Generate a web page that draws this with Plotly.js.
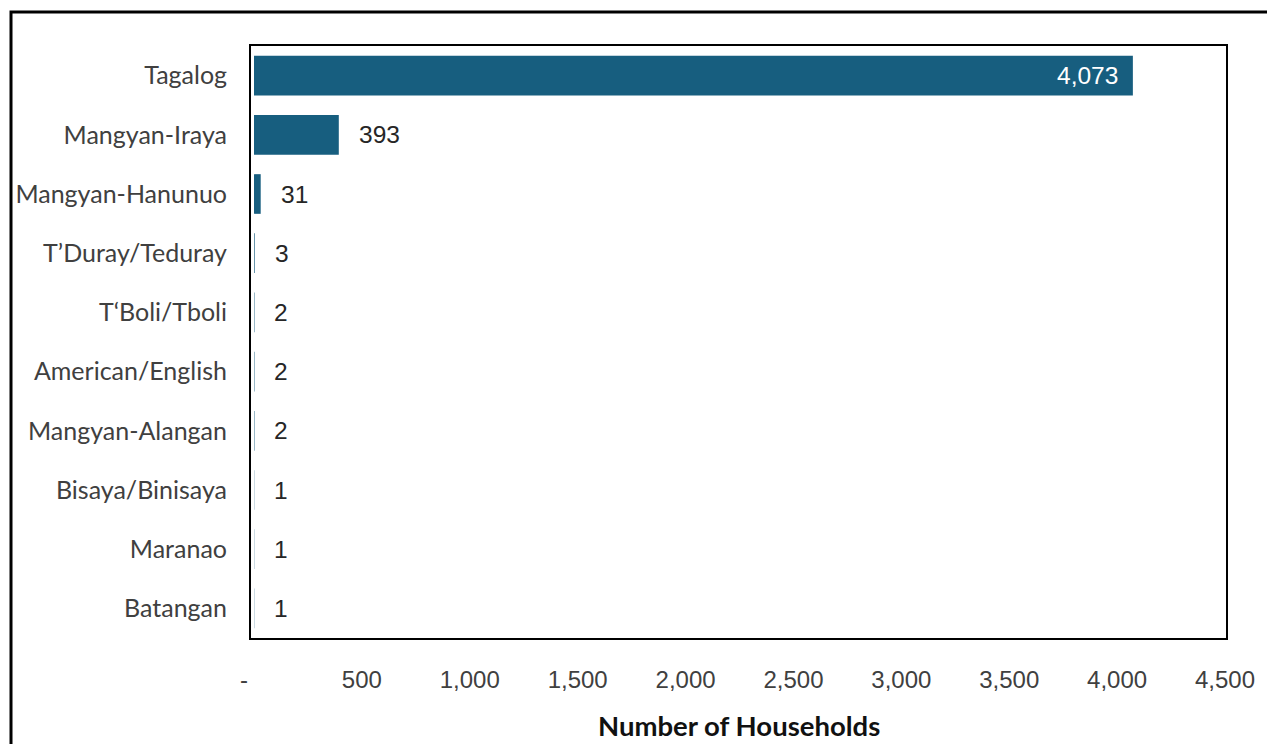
<!DOCTYPE html>
<html>
<head>
<meta charset="utf-8">
<script src="https://cdn.plot.ly/plotly-3.0.1.min.js"></script>
<style>html,body{margin:0;padding:0;background:#fff;}#chart{width:1267px;height:744px;}</style>
</head>
<body>
<div id="chart"></div>
<script>
const categories = ["Tagalog","Mangyan-Iraya","Mangyan-Hanunuo","T\u2019Duray/Teduray","T\u2018Boli/Tboli","American/English","Mangyan-Alangan","Bisaya/Binisaya","Maranao","Batangan"];
const households = [4073, 393, 31, 3, 2, 2, 2, 1, 1, 1];
const tickValues = [0, 500, 1000, 1500, 2000, 2500, 3000, 3500, 4000, 4500];
const tickLabels = ["-   ", "500", "1,000", "1,500", "2,000", "2,500", "3,000", "3,500", "4,000", "4,500"];

const barColor = "#175e7f";
const fmt = v => v.toLocaleString("en-US");

const annotations = households.map((v, i) => {
  const inside = v > 2000;
  return {
    x: v, y: categories[i], xref: "x", yref: "y",
    text: fmt(v), showarrow: false,
    xanchor: inside ? "right" : "left",
    xshift: inside ? -13 : 18,
    font: {family: "Liberation Sans, Arial, sans-serif", size: 24.5, color: inside ? "#ffffff" : "#262626"}
  };
});
annotations.push({
  xref: "paper", yref: "paper", x: 0.5, y: -0.117, yanchor: "top", showarrow: false,
  text: "<b>Number of Households</b>",
  font: {family: "Lato, sans-serif", size: 27.5, color: "#111111"}
});

const trace = {
  type: "bar", orientation: "h",
  x: households, y: categories,
  marker: {color: barColor},
  hoverinfo: "none"
};

const layout = {
  width: 1267, height: 744,
  margin: {l: 251, r: 41, t: 46, b: 106},
  paper_bgcolor: "#ffffff", plot_bgcolor: "#ffffff",
  bargap: 0.33,
  showlegend: false,
  xaxis: {
    range: [-13.9, 4504.6],
    tickvals: tickValues, ticktext: tickLabels,
    showgrid: false, zeroline: false,
    showline: true, mirror: true, linecolor: "#000000", linewidth: 2,
    ticks: "outside", ticklen: 19, tickcolor: "rgba(0,0,0,0)",
    tickfont: {family: "Liberation Sans, Arial, sans-serif", size: 24, color: "#404040"}
  },
  yaxis: {
    autorange: "reversed",
    showgrid: false, zeroline: false,
    showline: true, mirror: true, linecolor: "#000000", linewidth: 2,
    ticks: "outside", ticklen: 17, tickcolor: "rgba(0,0,0,0)",
    tickfont: {family: "Lato, sans-serif", size: 25, color: "#404040"}
  },
  annotations: annotations,
  shapes: [{
    type: "rect", xref: "paper", yref: "paper",
    x0: (11 - 251) / 975, x1: 1.2, y0: -0.3, y1: (638 - 12) / 592,
    line: {color: "#000000", width: 3}, fillcolor: "rgba(0,0,0,0)", layer: "above"
  }]
};

Plotly.newPlot("chart", [trace], layout, {displayModeBar: false, staticPlot: true});
</script>
</body>
</html>
